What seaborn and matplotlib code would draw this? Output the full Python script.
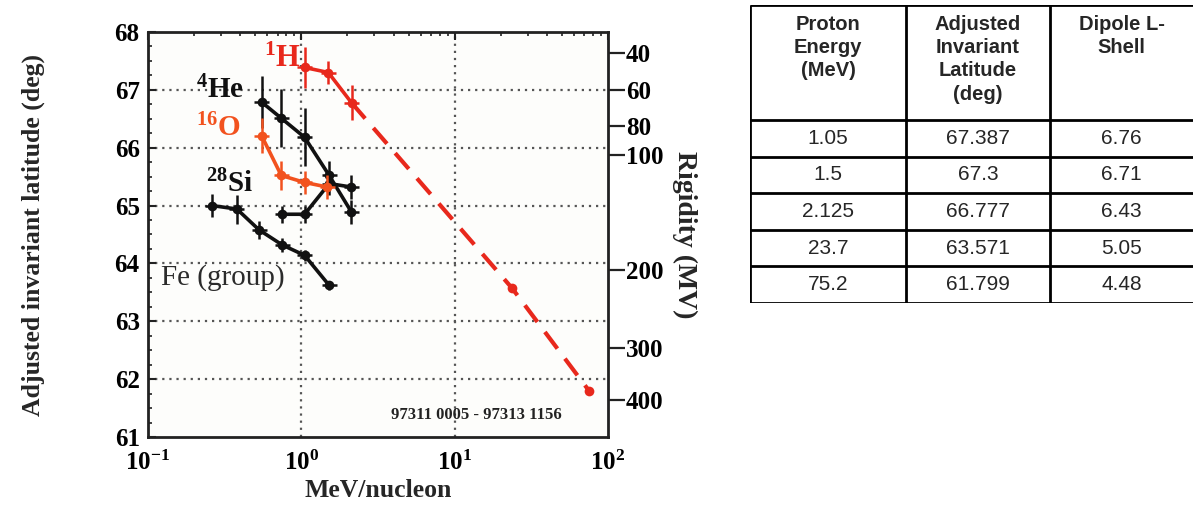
import numpy as np
import pandas as pd
import matplotlib
matplotlib.use("Agg")
import matplotlib.pyplot as plt
import seaborn as sns
from matplotlib.ticker import LogLocator, NullFormatter, FixedLocator

sns.set_theme(style="white")
plt.rcParams['font.family'] = ['Liberation Serif', 'DejaVu Serif']
plt.rcParams['font.weight'] = 'bold'
plt.rcParams['mathtext.default'] = 'regular'

# ---------------- data ----------------
h_x = [1.05, 1.5, 2.125]
h_y = [67.387, 67.3, 66.777]
h_err = [0.35, 0.2, 0.3]
h_ext_x = [2.125, 23.7, 75.2]
h_ext_y = [66.777, 63.571, 61.799]

he_x = [0.55, 0.74, 1.05, 1.52, 2.12]
he_y = [66.79, 66.51, 66.18, 65.52, 64.89]
he_err = [0.45, 0.5, 0.5, 0.25, 0.2]

o_x = [0.55, 0.74, 1.05, 1.48]
o_y = [66.21, 65.52, 65.40, 65.32]
o_err = [0.3, 0.25, 0.2, 0.2]

si_x = [0.75, 1.05, 1.52, 2.12]
si_y = [64.85, 64.85, 65.38, 65.32]
si_err = [0.15, 0.15, 0.2, 0.2]

fe_x = [0.262, 0.38, 0.53, 0.75, 1.05, 1.52]
fe_y = [65.0, 64.94, 64.58, 64.32, 64.14, 63.62]
fe_err = [0.2, 0.25, 0.15, 0.12, 0.1, 0.08]

rig_vals = [40, 60, 80, 100, 200, 300, 400]
rig_pos = [67.63, 66.99, 66.37, 65.87, 63.88, 62.54, 61.64]

y_ticks = [61, 62, 63, 64, 65, 66, 67, 68]
x_ticks = [0.1, 1, 10, 100]
x_ticklabels = ["10$^{-1}$", "10$^{0}$", "10$^{1}$", "10$^{2}$"]

table_headers = ["Proton\nEnergy\n(MeV)", "Adjusted\nInvariant\nLatitude\n(deg)", "Dipole L-\nShell"]
tab_energy = ["1.05", "1.5", "2.125", "23.7", "75.2"]
tab_lat = ["67.387", "67.3", "66.777", "63.571", "61.799"]
tab_lshell = ["6.76", "6.71", "6.43", "5.05", "4.48"]

RED = "#e8281c"
ORANGE = "#f2521e"
BLACK = "#111111"

# ---------------- figure ----------------
fig = plt.figure(figsize=(11.93, 5.08), dpi=100)
fig.patch.set_facecolor("white")
ax = fig.add_axes([148/1193, 1-437/508, (608-148)/1193, (437-32)/508])
ax.set_facecolor("#fdfdfb")

def series(x, y, err, color, lw=2.6, ms=7):
    df = pd.DataFrame({"x": x, "y": y})
    sns.lineplot(data=df, x="x", y="y", ax=ax, color=color, lw=lw, marker="o",
                 markersize=ms, markeredgewidth=0, sort=False, estimator=None)
    xe = [np.array(x) - np.array(x)/1.12, np.array(x)*1.12 - np.array(x)]
    ax.errorbar(x, y, yerr=err, xerr=xe, fmt="none", ecolor=color, elinewidth=1.8, capsize=0)

series(fe_x, fe_y, fe_err, BLACK)
series(si_x, si_y, si_err, BLACK)
series(he_x, he_y, he_err, BLACK)
series(o_x, o_y, o_err, ORANGE)
series(h_x, h_y, h_err, RED)

ext = pd.DataFrame({"x": h_ext_x, "y": h_ext_y})
sns.lineplot(data=ext, x="x", y="y", ax=ax, color=RED, lw=3, sort=False, estimator=None)
ax.lines[-1].set_dashes([5, 3])
ax.plot(h_ext_x[1:], h_ext_y[1:], "o", color=RED, ms=7, mew=0)

ax.set_xscale("log")
ax.set_xlim(0.1, 100)
ax.set_ylim(61, 68)

ax.set_yticks(y_ticks)
ax.set_yticklabels([str(v) for v in y_ticks], fontsize=18, fontweight="bold")
ax.set_xticks(x_ticks)
ax.set_xticklabels(x_ticklabels, fontsize=18, fontweight="bold")
ax.xaxis.set_minor_locator(LogLocator(base=10, subs=np.arange(2, 10), numticks=20))
ax.xaxis.set_minor_formatter(NullFormatter())
ax.yaxis.set_minor_locator(FixedLocator(np.arange(61, 68.01, 0.25)))
ax.tick_params(axis="both", which="major", direction="in", length=6, width=1.5,
               colors="#222", top=True, right=False)
ax.tick_params(axis="both", which="minor", direction="in", length=3, width=1.2,
               colors="#222", top=True, right=False)
ax.tick_params(axis="x", labelcolor="black", pad=10)
ax.tick_params(axis="y", labelcolor="black", pad=6)

for v in y_ticks[1:-1]:
    ax.axhline(v, color="#555", lw=1.6, ls=(0, (1, 2.2)), zorder=0)
for v in [1, 10]:
    ax.axvline(v, color="#555", lw=1.6, ls=(0, (1, 2.2)), zorder=0)

for s in ax.spines.values():
    s.set_color("#222")
    s.set_linewidth(2)
    s.set_visible(True)

ax.set_xlabel("MeV/nucleon", fontsize=18.5, fontweight="bold", labelpad=3)
ax.set_ylabel("Adjusted invariant latitude (deg)", fontsize=18.5, fontweight="bold", labelpad=50)

# right rigidity axis
ax2 = ax.twinx()
ax2.set_ylim(61, 68)
ax2.set_yticks(rig_pos)
ax2.set_yticklabels([str(v) for v in rig_vals], fontsize=18, fontweight="bold")
ax2.tick_params(axis="y", direction="out", length=12, width=1.6, colors="#222",
                labelcolor="black", pad=1)
ax2.set_ylabel("Rigidity (MV)", fontsize=20, fontweight="bold", rotation=-90, labelpad=24)
for s in ax2.spines.values():
    s.set_visible(False)

# labels inside
ax.text(0.57, 67.52, "$^{1}$H", color=RED, fontsize=22, fontweight="bold", ha="left", va="center")
ax.text(0.205, 66.99, "$^{4}$He", color=BLACK, fontsize=21, fontweight="bold", ha="left", va="center")
ax.text(0.205, 66.34, "$^{16}$O", color=ORANGE, fontsize=21, fontweight="bold", ha="left", va="center")
ax.text(0.24, 65.38, "$^{28}$Si", color=BLACK, fontsize=21, fontweight="bold", ha="left", va="center")
ax.text(0.122, 63.75, "Fe (group)", color="#2b2b2b", fontsize=21, fontweight="normal",
        ha="left", va="center")
ax.text(3.85, 61.38, "97311 0005 - 97313 1156", color="#222", fontsize=12,
        fontweight="bold", ha="left", va="center")

# ---------------- table ----------------
tax = fig.add_axes([750/1193, 1-303/508, (1193-750)/1193, (303-5)/508])
tax.set_xlim(0, 443)
tax.set_ylim(298, 0)
tax.axis("off")
col_edges = [0, 156, 300, 443]
row_edges = [0, 115, 152, 188, 225, 261, 298]
tax.hlines(row_edges, 0, 443, color="black", lw=2)
tax.vlines(col_edges[:-1], 0, 298, color="black", lw=2)
sans = ["Liberation Sans", "DejaVu Sans"]
for i, h in enumerate(table_headers):
    cx = (col_edges[i] + col_edges[i+1]) / 2
    tax.text(cx, 10, h, ha="center", va="top", fontsize=14.5, fontweight="bold",
             family=sans, linespacing=1.28)
for r, vals in enumerate(zip(tab_energy, tab_lat, tab_lshell)):
    cy = (row_edges[r+1] + row_edges[r+2]) / 2
    for i, v in enumerate(vals):
        cx = (col_edges[i] + col_edges[i+1]) / 2
        tax.text(cx, cy, v, ha="center", va="center", fontsize=15,
                 fontweight="normal", family=sans)

fig.savefig("out.png", dpi=100, facecolor="white")
